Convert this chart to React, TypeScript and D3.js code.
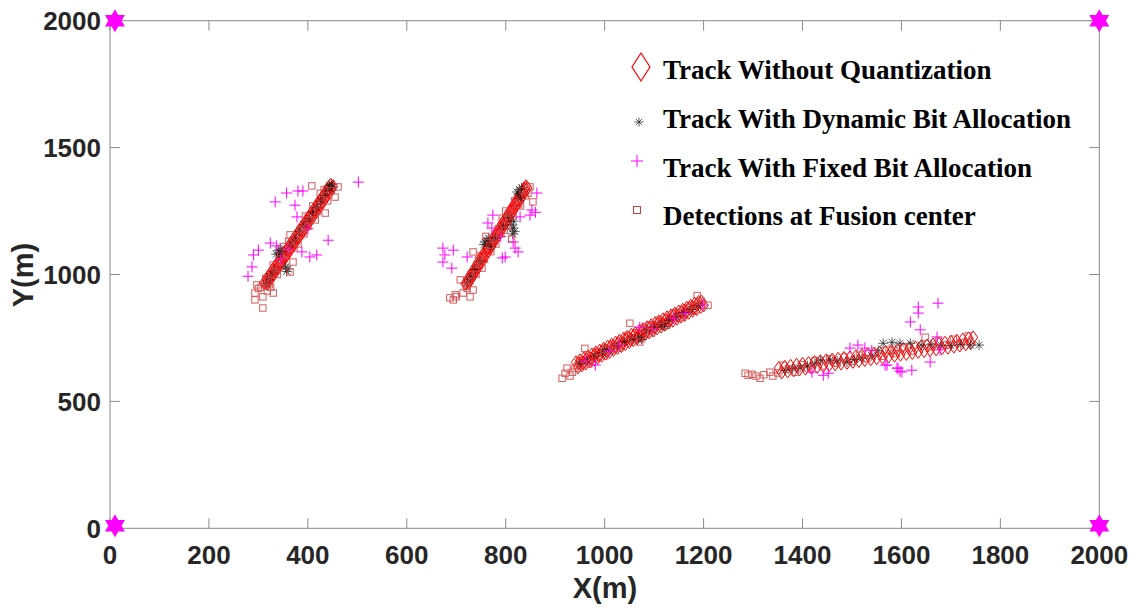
import React from "react";
import * as d3 from "d3";

type P = [number, number];

// ---- Tick labels ----
const xTicks = [0, 200, 400, 600, 800, 1000, 1200, 1400, 1600, 1800, 2000];
const yTicks = [0, 500, 1000, 1500, 2000];

// ---- Sensors (hexagram) ----
const sensors: P[] = [[10, 10], [10, 2000], [2000, 10], [2000, 2000]];

// ---- Track Without Quantization (diamonds) ----
const truth1: P[] = [
  [311, 966], [316, 981], [320, 993], [325, 1006], [329, 1019], [334, 1032], [338, 1045], [343, 1058], [347, 1071], [352, 1084],
  [356, 1096], [361, 1110], [365, 1122], [370, 1136], [374, 1148], [379, 1161], [383, 1174], [388, 1187], [392, 1200], [397, 1213],
  [401, 1226], [406, 1239], [410, 1251], [415, 1265], [419, 1277], [424, 1291], [428, 1303], [433, 1316], [437, 1329], [442, 1342], [446, 1354],
  [318, 962], [322, 975], [327, 988], [331, 1000], [336, 1014], [340, 1026], [345, 1040], [349, 1052], [354, 1066], [358, 1078],
  [363, 1092], [367, 1104], [372, 1117], [376, 1130], [381, 1143], [385, 1156], [390, 1169], [394, 1181], [399, 1195], [403, 1207],
  [408, 1221], [412, 1233], [417, 1246], [421, 1259], [426, 1272], [430, 1285], [435, 1298], [439, 1311], [444, 1324], [448, 1336], [451, 1348],
  [314, 966], [318, 972], [323, 992], [327, 998], [332, 1016], [336, 1022], [341, 1043], [345, 1048], [350, 1068], [354, 1074],
  [359, 1096], [363, 1100], [368, 1121], [372, 1126], [377, 1146], [381, 1152], [386, 1173], [390, 1177], [395, 1199], [399, 1202],
  [404, 1226], [408, 1230], [413, 1250], [417, 1256], [422, 1278], [426, 1281], [431, 1304], [435, 1306], [440, 1331], [444, 1336], [448, 1342],
];
const truth2: P[] = [
  [718, 964], [723, 980], [728, 996], [733, 1012], [738, 1027], [743, 1043], [748, 1059], [753, 1075], [758, 1090], [763, 1106],
  [768, 1122], [773, 1138], [778, 1153], [783, 1169], [788, 1185], [793, 1201], [798, 1216], [803, 1232], [808, 1248], [813, 1264],
  [818, 1279], [823, 1295], [828, 1311], [833, 1327], [837, 1339],
  [725, 966], [730, 982], [735, 998], [740, 1014], [745, 1029], [750, 1045], [755, 1061], [760, 1077], [765, 1092], [770, 1108],
  [775, 1124], [780, 1140], [785, 1155], [790, 1171], [795, 1187], [800, 1203], [805, 1218], [810, 1234], [815, 1250], [820, 1266],
  [825, 1281], [830, 1297], [835, 1313], [840, 1329], [844, 1341], [841, 1348],
  [721, 966], [726, 977], [731, 998], [736, 1008], [741, 1030], [746, 1040], [751, 1062], [756, 1071], [761, 1094], [766, 1103],
  [771, 1125], [776, 1134], [781, 1157], [786, 1166], [791, 1188], [796, 1197], [801, 1220], [806, 1229], [811, 1252], [816, 1261],
  [821, 1283], [826, 1292], [831, 1315], [836, 1324], [840, 1340],
];
const truth3: P[] = [
  [942, 654], [950, 662], [958, 669], [966, 677], [974, 685], [982, 693], [990, 700], [998, 708], [1006, 716], [1014, 723],
  [1022, 731], [1030, 739], [1038, 746], [1046, 754], [1054, 762], [1062, 769], [1070, 777], [1078, 785], [1086, 792], [1094, 800],
  [1102, 808], [1110, 815], [1118, 823], [1126, 831], [1134, 838], [1142, 846], [1150, 854], [1158, 861], [1166, 869], [1174, 877],
  [1182, 885], [1190, 892],
  [946, 634], [954, 642], [962, 649], [970, 657], [978, 665], [986, 672], [994, 680], [1002, 688], [1010, 695], [1018, 703],
  [1026, 711], [1034, 718], [1042, 726], [1050, 734], [1058, 741], [1066, 749], [1074, 757], [1082, 765], [1090, 772], [1098, 780],
  [1106, 788], [1114, 795], [1122, 803], [1130, 811], [1138, 818], [1146, 826], [1154, 834], [1162, 841], [1170, 849], [1178, 857],
  [1186, 864], [1194, 872], [1200, 878], [1196, 893],
  [948, 650], [956, 653], [964, 666], [972, 668], [980, 682], [988, 683], [996, 698], [1004, 700], [1012, 713], [1020, 715],
  [1028, 729], [1036, 730], [1044, 744], [1052, 746], [1060, 760], [1068, 761], [1076, 775], [1084, 776], [1092, 790], [1100, 792],
  [1108, 806], [1116, 807], [1124, 821], [1132, 822], [1140, 837], [1148, 838], [1156, 852], [1164, 853], [1172, 868], [1180, 869], [1188, 883],
];
const truth4: P[] = [
  [1352, 632], [1364, 636], [1376, 640], [1388, 644], [1400, 648], [1412, 651], [1424, 655], [1436, 658], [1448, 662], [1460, 665],
  [1472, 668], [1484, 671], [1496, 674], [1508, 678], [1520, 681], [1532, 685], [1544, 688], [1556, 692], [1568, 695], [1580, 699],
  [1592, 702], [1604, 706], [1616, 709], [1628, 713], [1640, 717], [1652, 720], [1664, 724], [1676, 727], [1688, 731], [1700, 735],
  [1712, 739], [1724, 744], [1736, 748], [1745, 752],
  [1358, 614], [1370, 618], [1382, 622], [1394, 626], [1406, 629], [1418, 633], [1430, 636], [1442, 640], [1454, 643], [1466, 646],
  [1478, 649], [1490, 652], [1502, 656], [1514, 659], [1526, 663], [1538, 666], [1550, 670], [1562, 673], [1574, 677], [1586, 680],
  [1598, 684], [1610, 687], [1622, 691], [1634, 695], [1646, 698], [1658, 702], [1670, 705], [1682, 709], [1694, 712], [1706, 716],
  [1718, 720], [1730, 725], [1740, 730],
];

// ---- Track With Dynamic Bit Allocation (asterisks) ----
const dyn1: P[] = [
  [316, 966], [324, 992], [332, 1015], [340, 1095], [345, 1100], [342, 1085], [348, 1090], [336, 1080], [355, 1030], [360, 1022],
  [357, 1012], [366, 1118], [374, 1140], [383, 1170], [392, 1195], [402, 1220], [410, 1246], [418, 1265], [426, 1290], [434, 1312],
  [440, 1332], [443, 1350], [447, 1356], [450, 1345],
];
const dyn2: P[] = [
  [722, 968], [730, 992], [738, 1020], [748, 1050], [758, 1128], [762, 1135], [765, 1142], [756, 1118], [770, 1110], [780, 1145],
  [795, 1190], [812, 1195], [815, 1183], [818, 1170], [816, 1210], [814, 1160], [823, 1325], [828, 1335], [832, 1342], [826, 1318],
  [830, 1300], [805, 1225],
];
const dyn3: P[] = [
  [950, 650], [965, 662], [980, 680], [995, 690], [1010, 700], [1025, 720], [1040, 735], [1055, 745], [1068, 752], [1075, 745],
  [1085, 780], [1100, 790], [1115, 805], [1130, 820], [1145, 835], [1160, 850], [1175, 862], [1190, 878], [1000, 705], [1120, 795],
];
const dyn4: P[] = [
  [1365, 622], [1380, 628], [1395, 632], [1410, 640], [1425, 650], [1436, 663], [1456, 663], [1470, 660], [1490, 655], [1505, 665],
  [1520, 670], [1540, 680], [1553, 700], [1563, 729], [1581, 733], [1597, 729], [1618, 729], [1640, 722], [1660, 725], [1680, 722],
  [1700, 720], [1720, 724], [1740, 722], [1757, 722],
];

// ---- Track With Fixed Bit Allocation (plus) ----
const fix1: P[] = [
  [502, 1364], [357, 1321], [380, 1329], [390, 1329], [334, 1286], [374, 1273], [378, 1227], [441, 1135], [324, 1124], [337, 1113],
  [300, 1096], [290, 1077], [388, 1089], [404, 1069], [418, 1077], [287, 1030], [279, 993], [360, 1100], [400, 1180], [345, 1060],
];
const fix2: P[] = [
  [673, 1104], [694, 1096], [673, 1049], [691, 1025], [677, 1077], [722, 1069], [774, 1234], [764, 1203], [772, 1183], [863, 1321],
  [853, 1254], [849, 1234], [829, 1227], [819, 1104], [825, 1089], [799, 1069], [793, 1065], [815, 1128], [860, 1245], [790, 1150],
];
const fix3: P[] = [
  [981, 643], [1071, 792], [1096, 788], [1163, 847], [1199, 880], [1030, 722], [1140, 828], [962, 660], [1010, 700],
];
const fix4: P[] = [
  [1496, 710], [1512, 722], [1526, 710], [1442, 603], [1452, 611], [1571, 643], [1593, 631], [1597, 619], [1621, 623], [1618, 813],
  [1634, 872], [1674, 887], [1634, 848], [1638, 782], [1672, 754], [1678, 703], [1658, 655], [1601, 616], [1591, 631], [1567, 643],
  [1419, 615], [1540, 700],
];

// ---- Detections at Fusion center (squares) ----
const det1: P[] = [
  [297, 959], [293, 927], [309, 912], [309, 868], [293, 900], [330, 927], [300, 945], [318, 935], [325, 950], [315, 985],
  [408, 1349], [461, 1345], [455, 1305], [435, 1242], [370, 1049], [364, 1156], [388, 1175], [330, 1037], [364, 1010], [327, 1005],
  [345, 1075], [380, 1120], [400, 1190], [420, 1250], [440, 1290], [350, 1110], [395, 1230], [415, 1215], [425, 1320], [338, 1000], [305, 950],
  [320, 975], [335, 1030], [342, 1050], [356, 1085], [361, 1130], [372, 1105], [385, 1180], [392, 1160], [405, 1215], [410, 1270],
  [428, 1280], [433, 1335], [447, 1330], [322, 960], [378, 1150],
];
const det2: P[] = [
  [687, 908], [698, 920], [714, 927], [728, 912], [708, 979], [734, 1089], [752, 1025], [734, 939], [694, 900], [700, 912],
  [720, 955], [855, 1286], [849, 1345], [793, 1222], [760, 1150], [780, 1120], [800, 1250], [830, 1270], [845, 1320], [745, 1060],
  [770, 1090], [815, 1230], [740, 1000], [790, 1160], [805, 1190], [742, 1040], [812, 1140],
  [725, 975], [730, 1000], [750, 1075], [757, 1060], [768, 1115], [775, 1140], [785, 1180], [797, 1175], [808, 1240], [818, 1290],
  [826, 1275], [835, 1330], [840, 1310], [722, 945],
];
const det3: P[] = [
  [914, 591], [920, 611], [924, 631], [940, 631], [935, 615], [960, 709], [1051, 808], [1187, 917], [1209, 879], [1071, 734],
  [950, 640], [968, 648], [985, 695], [1000, 680], [1015, 725], [1030, 710], [1045, 760], [1060, 740], [1080, 790], [1095, 770],
  [1110, 820], [1125, 800], [1140, 850], [1155, 830], [1170, 870], [1180, 855], [1195, 895], [1005, 700], [1090, 800], [930, 600],
];
const det4: P[] = [
  [1284, 611], [1290, 603], [1298, 607], [1306, 600], [1314, 591], [1322, 605], [1334, 615], [1340, 600], [1361, 643], [1350, 612],
  [1372, 628], [1385, 615], [1398, 645], [1410, 632], [1425, 660], [1440, 640], [1455, 668], [1470, 650], [1485, 675], [1500, 658],
  [1515, 682], [1530, 668], [1545, 690], [1560, 678], [1575, 702], [1590, 688], [1605, 712], [1620, 698], [1648, 753], [1660, 715],
  [1675, 738], [1690, 722], [1705, 745], [1720, 732], [1735, 758], [1585, 700],
];

const legendLabels = [
  "Track Without Quantization",
  "Track With Dynamic Bit Allocation",
  "Track With Fixed Bit Allocation",
  "Detections at Fusion center",
];

const W = 1139;
const H = 608;

const x = d3.scaleLinear().domain([0, 2000]).range([110, 1099.3]);
const y = d3.scaleLinear().domain([0, 2000]).range([528.3, 20.7]);

const RED = "#ff0000";
const SQ = "#d04040";
const MAG = "#ff00ff";
const AST = "#1a1a1a";

function diamondPath(w: number, h: number) {
  return `M0,${-h}L${w},0L0,${h}L${-w},0Z`;
}
function asteriskPath(r: number) {
  const d = r * Math.SQRT1_2;
  return `M${-r},0L${r},0M0,${-r}L0,${r}M${-d},${-d}L${d},${d}M${-d},${d}L${d},${-d}`;
}
function plusPath(r: number) {
  return `M${-r},0L${r},0M0,${-r}L0,${r}`;
}
function hexagramPath(R: number) {
  const pts: string[] = [];
  for (let i = 0; i < 12; i++) {
    const a = (-90 + i * 30) * (Math.PI / 180);
    const r = i % 2 === 0 ? R : R / Math.sqrt(3);
    pts.push(`${(r * Math.cos(a)).toFixed(2)},${(r * Math.sin(a)).toFixed(2)}`);
  }
  return "M" + pts.join("L") + "Z";
}

const truthAll = [...truth1, ...truth2, ...truth3, ...truth4];
const dynAll = [...dyn1, ...dyn2, ...dyn3, ...dyn4];
const fixAll = [...fix1, ...fix2, ...fix3, ...fix4];
const detAll = [...det1, ...det2, ...det3, ...det4];

export default function App() {
  const axisColor = "#8a8a8a";
  const tickLen = 10;
  const x0 = x(0), x1 = x(2000), y0 = y(0), y1 = y(2000);
  const dPlot = diamondPath(4.5, 6.5);
  const aPlot = asteriskPath(5);
  const pPlot = plusPath(5.5);
  const hex = hexagramPath(11.5);
  const sq = 6.4;

  const legendRows = [
    { ty: 79, my: 67, mx: 641 },
    { ty: 128, my: 122, mx: 639 },
    { ty: 177, my: 161, mx: 637 },
    { ty: 225, my: 210, mx: 637 },
  ];

  return (
    <svg width={W} height={H} style={{ position: "absolute", left: 0, top: 0, background: "#fff" }}>
      <rect x={0} y={0} width={W} height={H} fill="#fff" />
      {/* axes box */}
      <g stroke={axisColor} strokeWidth={1} fill="none">
        <rect x={x0} y={y1} width={x1 - x0} height={y0 - y1} />
        {xTicks.map((t) => (
          <g key={"xt" + t}>
            <line x1={x(t)} x2={x(t)} y1={y0} y2={y0 - tickLen} />
            <line x1={x(t)} x2={x(t)} y1={y1} y2={y1 + tickLen} />
          </g>
        ))}
        {yTicks.map((t) => (
          <g key={"yt" + t}>
            <line x1={x0} x2={x0 + tickLen} y1={y(t)} y2={y(t)} />
            <line x1={x1} x2={x1 - tickLen} y1={y(t)} y2={y(t)} />
          </g>
        ))}
      </g>
      {/* tick labels */}
      <g fontFamily="'Liberation Sans', Arial, sans-serif" fontWeight="bold" fontSize={26} fill="#262626">
        {xTicks.map((t) => (
          <text key={"xl" + t} x={x(t)} y={563.5} textAnchor="middle">{t}</text>
        ))}
        {yTicks.map((t) => (
          <text key={"yl" + t} x={101} y={y(t)} dy="0.36em" textAnchor="end">{t}</text>
        ))}
      </g>
      {/* axis labels */}
      <text x={605} y={598} textAnchor="middle" fontFamily="'Liberation Sans', Arial, sans-serif" fontWeight="bold" fontSize={29} fill="#262626">X(m)</text>
      <text transform="translate(33,275) rotate(-90)" textAnchor="middle" fontFamily="'Liberation Sans', Arial, sans-serif" fontWeight="bold" fontSize={29} fill="#262626">Y(m)</text>

      {/* data */}
      <g fill="none" stroke={RED} strokeWidth={1}>
        {truthAll.map((p, i) => (
          <path key={"d" + i} d={dPlot} transform={`translate(${x(p[0])},${y(p[1])})`} />
        ))}
      </g>
      <g fill="none" stroke={AST} strokeWidth={0.7}>
        {dynAll.map((p, i) => (
          <path key={"a" + i} d={aPlot} transform={`translate(${x(p[0])},${y(p[1])})`} />
        ))}
      </g>
      <g fill="none" stroke={MAG} strokeWidth={1}>
        {fixAll.map((p, i) => (
          <path key={"p" + i} d={pPlot} transform={`translate(${x(p[0])},${y(p[1])})`} />
        ))}
      </g>
      <g fill="none" stroke={SQ} strokeWidth={1} opacity={0.85}>
        {detAll.map((p, i) => (
          <rect key={"s" + i} x={x(p[0]) - sq / 2} y={y(p[1]) - sq / 2} width={sq} height={sq} />
        ))}
      </g>
      {/* sensors */}
      <g fill={MAG} stroke="none">
        {sensors.map((p, i) => (
          <path key={"h" + i} d={hex} transform={`translate(${x(p[0])},${y(p[1])})`} />
        ))}
      </g>

      {/* legend */}
      <g>
        <path d={diamondPath(9, 14)} transform={`translate(${legendRows[0].mx},${legendRows[0].my})`} fill="none" stroke={RED} strokeWidth={1.2} />
        <path d={asteriskPath(4.5)} transform={`translate(${legendRows[1].mx},${legendRows[1].my})`} fill="none" stroke={AST} strokeWidth={0.7} />
        <path d={plusPath(6)} transform={`translate(${legendRows[2].mx},${legendRows[2].my})`} fill="none" stroke={MAG} strokeWidth={1} />
        <rect x={legendRows[3].mx - 3.5} y={legendRows[3].my - 3.5} width={7} height={7} fill="none" stroke={SQ} strokeWidth={1} />
        {legendLabels.map((l, i) => (
          <text key={"lg" + i} x={663} y={legendRows[i].ty} fontFamily="'Liberation Serif', 'Times New Roman', serif" fontWeight="bold" fontSize={27} fill="#000">{l}</text>
        ))}
      </g>
    </svg>
  );
}
